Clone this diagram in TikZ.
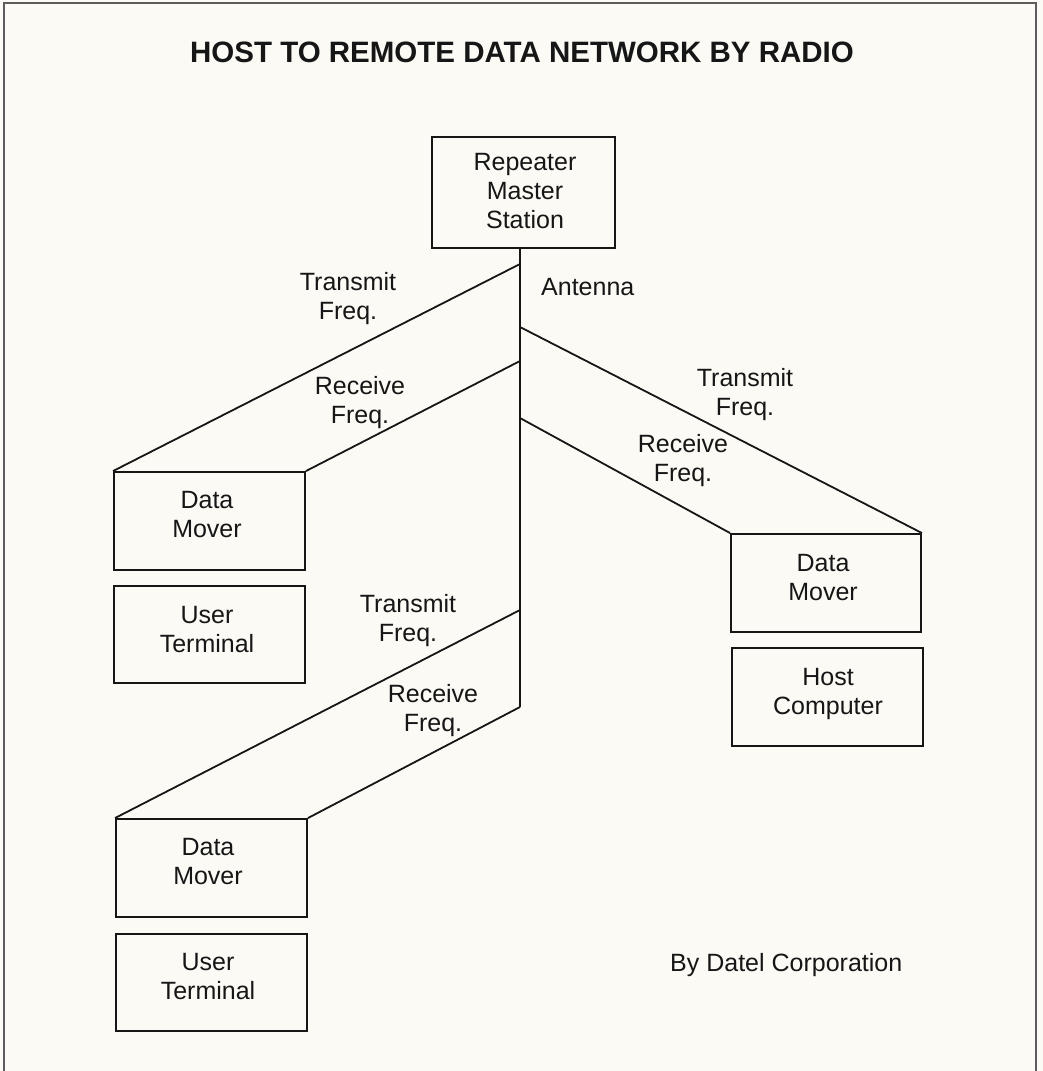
\documentclass[tikz,border=0pt]{standalone}
\usepackage{fontspec}
\setmainfont{Liberation Sans}
\definecolor{paper}{RGB}{251,250,245}
\definecolor{ink}{RGB}{22,22,22}
\newcommand{\labfont}{\fontsize{25}{29}\selectfont}
\newcommand{\headfont}{\fontsize{29.5}{34}\selectfont\bfseries}
% centred lines whose baseline is the baseline of the first line
\newcommand{\stacked}[1]{\begin{tabular}[t]{@{}c@{}}#1\end{tabular}}

\begin{document}
\begin{tikzpicture}[x=1pt,y=-1pt,
  box/.style={draw=ink, line width=1.9pt, minimum width=191pt, minimum height=98pt, inner sep=0pt},
  lbl/.style={font=\labfont, text=ink, anchor=base, inner sep=0pt},
  wire/.style={draw=ink, line width=1.8pt}]

% page and frame
\fill[paper] (0,0) rectangle (1043,1071);
\useasboundingbox (0,0) rectangle (1043,1071);
\draw[line width=1.2pt, color=ink!70] (4,1071) -- (4,3) -- (1036,3) -- (1036,1071);

% heading
\node[font=\headfont, text=ink, anchor=base, inner sep=0pt] (title) at (522,62) {HOST TO REMOTE DATA NETWORK BY RADIO};

% repeater master station
\node[box, minimum width=183pt, minimum height=111pt] (rep) at (523.5,192.5) {};
\node[lbl] (rept) at (525,170) {\stacked{Repeater\\Master\\Station}};

% antenna mast and the points where the radio links meet it
\coordinate (atop) at (520,248);
\coordinate (abot) at (520,707);
\coordinate (t1) at (520,264);
\coordinate (t2) at (520,327);
\coordinate (r1) at (520,361);
\coordinate (r2) at (520,418);
\coordinate (t3) at (520,610);
\draw[wire] (atop) -- (abot);
\node[lbl, anchor=base west] (ant) at (541,295) {Antenna};

% upper remote site
\node[box] (dm1) at (209.5,521) {};
\node[lbl] (dm1t) at (207,508) {\stacked{Data\\Mover}};
\node[box, minimum height=97pt] (ut1) at (209.5,634.5) {};
\node[lbl] (ut1t) at (207,623) {\stacked{User\\Terminal}};

% host site
\node[box, minimum width=190pt] (dmr) at (826,583) {};
\node[lbl] (dmrt) at (823,571) {\stacked{Data\\Mover}};
\node[box] (host) at (827.5,697) {};
\node[lbl] (hostt) at (828,685) {\stacked{Host\\Computer}};

% lower remote site
\node[box] (dm3) at (211.5,868) {};
\node[lbl] (dm3t) at (208,855) {\stacked{Data\\Mover}};
\node[box, minimum height=97pt] (ut3) at (211.5,982.5) {};
\node[lbl] (ut3t) at (208,970) {\stacked{User\\Terminal}};

% radio links
\draw[wire] (t1) -- (dm1.north west);
\draw[wire] (r1) -- (dm1.north east);
\draw[wire] (t2) -- (dmr.north east);
\draw[wire] (r2) -- (dmr.north west);
\draw[wire] (t3) -- (dm3.north west);
\draw[wire] (abot) -- (dm3.north east);

% link labels
\node[lbl] (tx1) at (348,290) {\stacked{Transmit\\Freq.}};
\node[lbl] (rx1) at (360,394) {\stacked{Receive\\Freq.}};
\node[lbl] (tx2) at (745,386) {\stacked{Transmit\\Freq.}};
\node[lbl] (rx2) at (683,452) {\stacked{Receive\\Freq.}};
\node[lbl] (tx3) at (408,612) {\stacked{Transmit\\Freq.}};
\node[lbl] (rx3) at (433,702) {\stacked{Receive\\Freq.}};

% credit
\node[lbl, anchor=base west] (credit) at (670,971) {By Datel Corporation};
\end{tikzpicture}
\end{document}
